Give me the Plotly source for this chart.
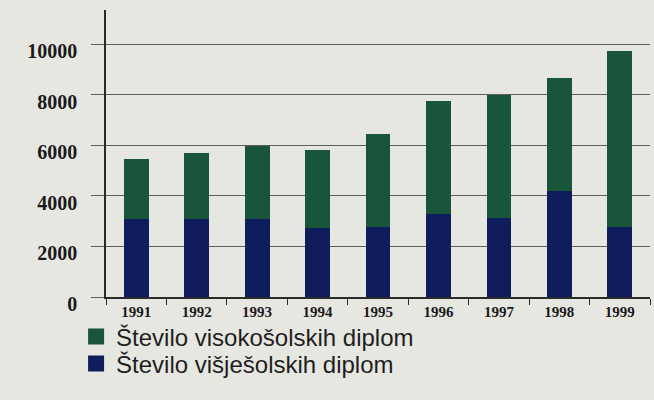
import plotly.graph_objects as go

years = ["1991", "1992", "1993", "1994", "1995", "1996", "1997", "1998", "1999"]
visje = [3100, 3100, 3070, 2720, 2750, 3300, 3120, 4190, 2750]      # Število višješolskih diplom
visoko = [2350, 2610, 2900, 3080, 3680, 4470, 4880, 4460, 6990]     # Število visokošolskih diplom
name_visoko = "Število visokošolskih diplom"
name_visje = "Število višješolskih diplom"
ytick_vals = [0, 2000, 4000, 6000, 8000, 10000]
ytick_text = ["0", "2000", "4000", "6000", "8000", "10000"]

GREEN = "#19553a"
NAVY = "#101d5c"
BG = "#e7e7e2"
GRID = "#5e5e58"

fig = go.Figure()
fig.add_trace(go.Bar(x=years, y=visje, name=name_visje, marker=dict(color=NAVY, line=dict(width=0)),
                     width=0.41, showlegend=False))
fig.add_trace(go.Bar(x=years, y=visoko, name=name_visoko, marker=dict(color=GREEN, line=dict(width=0)),
                     width=0.41, showlegend=False))
# legend entries with larger square swatches
fig.add_trace(go.Scatter(x=[None], y=[None], mode="markers", name=name_visoko, legend="legend",
                         marker=dict(symbol="square", size=21, color=GREEN)))
fig.add_trace(go.Scatter(x=[None], y=[None], mode="markers", name=name_visje, legend="legend2",
                         marker=dict(symbol="square", size=21, color=NAVY)))

legend_font = dict(family="Liberation Sans, Arial, sans-serif", size=24, color="#1e1e1e")
fig.update_layout(
    width=654, height=400,
    barmode="stack",
    paper_bgcolor=BG, plot_bgcolor=BG,
    margin=dict(l=106, r=4, t=10, b=103, autoexpand=False),
    showlegend=True,
    legend=dict(x=-0.055, y=-0.139, xanchor="left", yanchor="middle",
                bgcolor="rgba(0,0,0,0)", itemsizing="trace", font=legend_font),
    legend2=dict(x=-0.055, y=-0.233, xanchor="left", yanchor="middle",
                 bgcolor="rgba(0,0,0,0)", itemsizing="trace", font=legend_font),
    xaxis=dict(type="category", showgrid=False, showline=True, linecolor="#2a2a2a", linewidth=1.5,
               ticks="outside", tickson="boundaries", ticklen=6, tickcolor="#2a2a2a", tickwidth=1,
               automargin=False,
               tickfont=dict(family="Liberation Serif, Times New Roman, serif", size=15, color="#1a1a1a",
                             weight="bold"),
               range=[-0.5, 8.5], fixedrange=True),
    yaxis=dict(range=[0, 11350], tickvals=ytick_vals, ticktext=ytick_text, showgrid=True,
               gridcolor=GRID, gridwidth=1.2, automargin=False,
               zeroline=False, showline=True, linecolor="#2a2a2a", linewidth=1.5,
               ticks="outside", ticklen=13, tickcolor=GRID, tickwidth=1.2,
               ticklabelstandoff=10, ticklabelshift=7,
               tickfont=dict(family="Liberation Serif, Times New Roman, serif", size=20, color="#1a1a1a",
                             weight="bold")),
)

fig.write_html("out.html", config={"displayModeBar": False},
               post_script="document.body.style.margin='0px';")
